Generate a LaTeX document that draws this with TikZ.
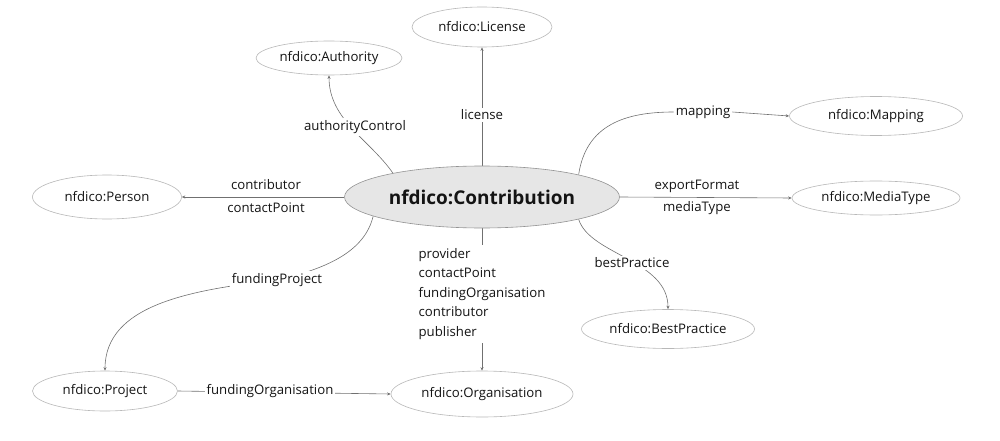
\documentclass[tikz,border=0pt]{standalone}
\usepackage{fontspec}
\setmainfont{Open Sans}
\usetikzlibrary{shapes.geometric,arrows.meta}
\pgfdeclarelayer{background}
\pgfsetlayers{background,main}
\definecolor{edgegray}{HTML}{707070}
\definecolor{ringgray}{HTML}{B8B8B8}
\definecolor{txt}{HTML}{141414}
\definecolor{mainfill}{HTML}{E6E6E6}
\tikzset{
  cls/.style={ellipse, draw=ringgray, line width=0.6pt, fill=white, inner sep=0pt,
    font=\fontsize{13.2}{15}\selectfont, text=txt},
  maincls/.style={ellipse, draw=ringgray!80!black, line width=0.6pt, fill=mainfill, inner sep=0pt,
    font=\fontsize{19}{21}\selectfont\bfseries, text=txt},
  lbl/.style={inner sep=2pt, font=\fontsize{13.2}{15}\selectfont, text=txt},
  wlbl/.style={lbl, fill=white},
  conn/.style={draw=edgegray, line width=0.6pt},
  arr/.style={conn, -{Stealth[length=3.5pt,width=3pt]}}
}
\begin{document}
\begin{tikzpicture}[x=1pt,y=-1pt]
\useasboundingbox (0,0) rectangle (1000,441);
% classes
\node[maincls, minimum width=275pt, minimum height=62pt] (C) at (482,197) {nfdico:Contribution};
\node[cls, minimum width=140pt, minimum height=40pt] (Lic) at (482,27) {nfdico:License};
\node[cls, minimum width=146pt, minimum height=34pt] (Auth) at (329,58) {nfdico:Authority};
\node[cls, minimum width=173pt, minimum height=39pt] (Map) at (876,116) {nfdico:Mapping};
\node[cls, minimum width=168pt, minimum height=34pt] (MT) at (876,198) {nfdico:MediaType};
\node[cls, minimum width=173pt, minimum height=39pt] (BP) at (668,329) {nfdico:BestPractice};
\node[cls, minimum width=149pt, minimum height=44pt] (Pers) at (107,197) {nfdico:Person};
\node[cls, minimum width=145pt, minimum height=40pt] (Proj) at (105,391) {nfdico:Project};
\node[cls, minimum width=182pt, minimum height=46pt] (Org) at (482,394) {nfdico:Organisation};
% labels
\node[wlbl] (lLic) at (482,115) {license};
\node[wlbl] (lAuth) at (355,127) {authorityControl};
\node[wlbl] (lMap) at (703,112) {mapping};
\node[lbl] (lEF) at (697,186) {exportFormat};
\node[lbl] (lMTy) at (697,208) {mediaType};
\node[wlbl] (lBP) at (632,263) {bestPractice};
\node[lbl] (lCon) at (266,185) {contributor};
\node[lbl] (lCP) at (266,208) {contactPoint};
\node[wlbl] (lFP) at (277,280) {fundingProject};
\node[wlbl] (lFO) at (270,391) {fundingOrganisation};
\node[wlbl, align=left, font=\fontsize{13.2}{19.5}\selectfont, inner sep=3pt] (lOrg) at (482,294)
  {provider\\contactPoint\\fundingOrganisation\\contributor\\publisher};
% connectors
\begin{pgfonlayer}{background}
\draw[arr] (C.north) -- (Lic.south);
\draw[arr] (C.165) .. controls (370,140) and (329,120) .. (Auth.south);
\draw[conn] (C.13) .. controls (586,125) and (625,112) .. (lMap.west);
\draw[arr] (lMap.east) -- (Map.west);
\draw[arr] (C.east) -- (MT.west);
\draw[arr] (C.-13) .. controls (590,255) and (668,260) .. (BP.north);
\draw[arr] (C.west) -- (Pers.east);
\draw[conn] (C.190) .. controls (365,250) and (330,268) .. (lFP.center);
\draw[arr] (lFP.center) .. controls (190,290) and (105,305) .. (Proj.north);
\draw[arr] (Proj.east) -- (Org.west);
\draw[arr] (C.south) -- (Org.north);
\end{pgfonlayer}
\end{tikzpicture}
\end{document}
